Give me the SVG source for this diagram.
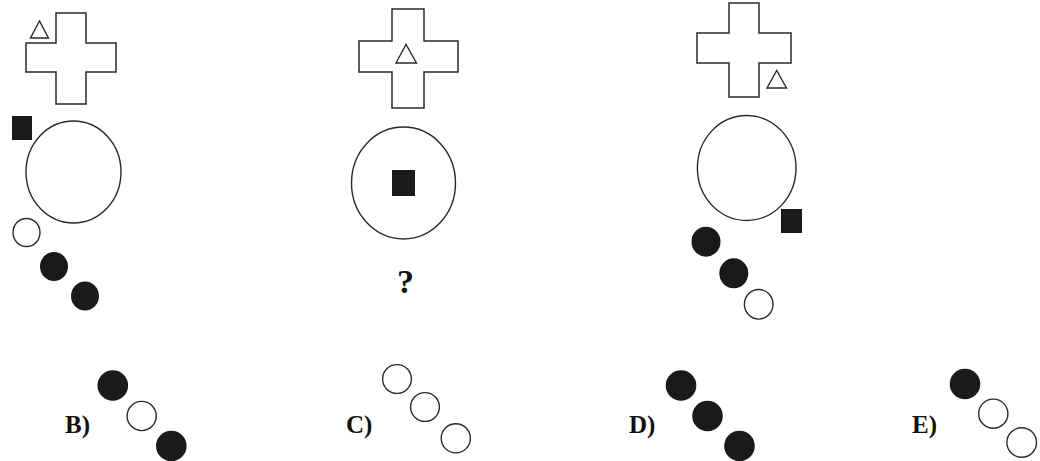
<svg xmlns="http://www.w3.org/2000/svg" width="1040" height="461" viewBox="0 0 1040 461">
<style>
.line{fill:#fff;stroke:#2a2a2a;stroke-width:1.5}
.open{fill:#fff;stroke:#2a2a2a;stroke-width:1.4}
.solid{fill:#1a1a1a;stroke:none}
.lbl{font-family:"Liberation Serif","Times New Roman",serif;font-weight:bold;font-size:25px;fill:#111}
.q{font-size:34px}
</style>
<rect width="1040" height="461" fill="#fff"/>
<g id="panel1">
<path class="line" d="M56,13 H86 V43 H116 V72 H86 V104 H56 V72 H26 V43 H56 Z"/>
<polygon class="open" points="30.5,38 39.5,21 48.5,38"/>
<rect class="solid" x="12" y="116" width="20" height="24"/>
<ellipse class="open" cx="73.5" cy="172" rx="47.5" ry="51"/>
<ellipse class="open" cx="26.5" cy="232.5" rx="13.5" ry="14"/>
<ellipse class="solid" cx="54" cy="266.5" rx="14" ry="14.5"/>
<ellipse class="solid" cx="85" cy="296" rx="14" ry="14.5"/>
</g>
<g id="panel2">
<path class="line" d="M392,9 H424 V41 H458 V72 H424 V108 H392 V72 H359 V41 H392 Z"/>
<polygon class="open" points="396,63 406,44.5 416.5,63"/>
<ellipse class="open" cx="403.5" cy="183" rx="52" ry="56"/>
<rect class="solid" x="392" y="170" width="23" height="26"/>
<text class="lbl q" x="405.5" y="293" text-anchor="middle">?</text>
</g>
<g id="panel3">
<path class="line" d="M729,3 H759 V33 H791 V63 H759 V97 H729 V63 H697 V33 H729 Z"/>
<polygon class="open" points="767,88 776.7,70.5 786.5,88"/>
<ellipse class="open" cx="746.7" cy="168" rx="49.3" ry="52.5"/>
<rect class="solid" x="781" y="209" width="21" height="24"/>
<ellipse class="solid" cx="706" cy="241.7" rx="14.5" ry="15"/>
<ellipse class="solid" cx="733.8" cy="273.3" rx="14.5" ry="15"/>
<ellipse class="open" cx="758.7" cy="304.3" rx="14.3" ry="14.8"/>
</g>
<g id="optionB">
<circle class="solid" cx="112.8" cy="385.5" r="15.3"/>
<circle class="open" cx="141.7" cy="416" r="14.6"/>
<circle class="solid" cx="171.3" cy="446" r="15.3"/>
<text class="lbl" x="65" y="433">B)</text>
</g>
<g id="optionC">
<circle class="open" cx="397" cy="379" r="14.4"/>
<circle class="open" cx="425" cy="407" r="14.4"/>
<circle class="open" cx="455.8" cy="438.3" r="14.6"/>
<text class="lbl" x="346" y="433">C)</text>
</g>
<g id="optionD">
<circle class="solid" cx="681" cy="385.5" r="15.3"/>
<circle class="solid" cx="707.5" cy="416" r="15.3"/>
<circle class="solid" cx="739.5" cy="446" r="15.3"/>
<text class="lbl" x="629" y="433">D)</text>
</g>
<g id="optionE">
<circle class="solid" cx="965" cy="384" r="15.3"/>
<circle class="open" cx="993.3" cy="413.7" r="14.6"/>
<circle class="open" cx="1021.7" cy="442.5" r="14.8"/>
<text class="lbl" x="912" y="433">E)</text>
</g>
</svg>
